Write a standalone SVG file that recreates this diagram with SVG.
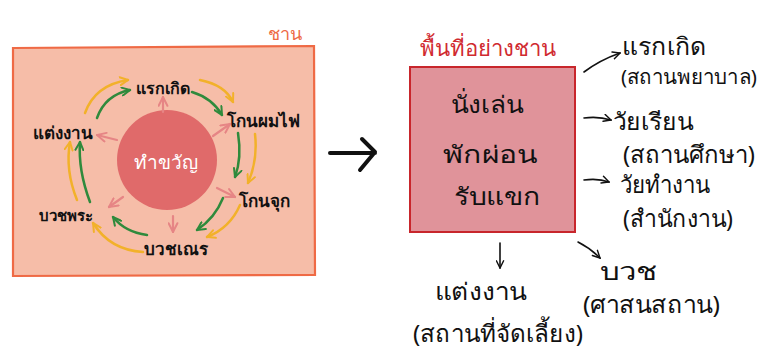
<svg xmlns="http://www.w3.org/2000/svg" width="766" height="350" viewBox="0 0 766 350">
<style>
text{font-family:"Noto Sans","DejaVu Sans",sans-serif;}
.lbl{font-size:17px;fill:#111;font-weight:bold;text-anchor:middle;dominant-baseline:central;}
.hand{font-size:24px;fill:#111;dominant-baseline:central;}
.yel{fill:none;stroke:#f2b12a;stroke-width:2.5;stroke-linecap:round;marker-end:url(#hy);}
.grn{fill:none;stroke:#2f8a3c;stroke-width:2.5;stroke-linecap:round;marker-end:url(#hg);}
.pnk{fill:none;stroke:#e68585;stroke-width:2.2;stroke-linecap:round;marker-end:url(#hp);}
.blk{fill:none;stroke:#111;stroke-width:1.6;stroke-linecap:round;marker-end:url(#hb);}
</style>
<defs>
<marker id="hy" viewBox="0 0 10 10" refX="9" refY="5" markerWidth="10" markerHeight="10" markerUnits="userSpaceOnUse" orient="auto"><path d="M1,1 L9,5 L1,9" fill="none" stroke="#f2b12a" stroke-width="2" stroke-linecap="round"/></marker>
<marker id="hg" viewBox="0 0 10 10" refX="9" refY="5" markerWidth="10" markerHeight="10" markerUnits="userSpaceOnUse" orient="auto"><path d="M1,1 L9,5 L1,9" fill="none" stroke="#2f8a3c" stroke-width="2" stroke-linecap="round"/></marker>
<marker id="hp" viewBox="0 0 10 10" refX="9" refY="5" markerWidth="11" markerHeight="11" markerUnits="userSpaceOnUse" orient="auto"><path d="M1,1 L9,5 L1,9" fill="none" stroke="#e68585" stroke-width="1.8" stroke-linecap="round"/></marker>
<marker id="hb" viewBox="0 0 10 10" refX="9" refY="5" markerWidth="9" markerHeight="9" markerUnits="userSpaceOnUse" orient="auto"><path d="M1,1 L9,5 L1,9" fill="none" stroke="#111" stroke-width="1.6" stroke-linecap="round"/></marker>
</defs>
<rect width="766" height="350" fill="#ffffff"/>

<g id="chan-area">
<polygon points="13,48 314,46 315,275 13,276" fill="#f6bda8" stroke="#ef6a45" stroke-width="2.2"/>
<text x="285" y="33" style="font-size:18px;fill:#ee6a45;text-anchor:middle;dominant-baseline:central;">ชาน</text>
</g>

<g id="center">
<circle cx="167" cy="160" r="50" fill="#e06a6a"/>
<text x="166" y="162" style="font-size:19px;fill:#ffffff;text-anchor:middle;dominant-baseline:central;">ทำขวัญ</text>
</g>

<g id="n-raekkoet"><text class="lbl" x="163" y="88" style="font-size:16px">แรกเกิด</text></g>
<g id="n-konphomfai"><text class="lbl" x="263" y="120">โกนผมไฟ</text></g>
<g id="n-konchuk"><text class="lbl" x="264" y="200">โกนจุก</text></g>
<g id="n-buatnen"><text class="lbl" x="176" y="248">บวชเณร</text></g>
<g id="n-buatphra"><text class="lbl" x="66" y="215" style="font-size:15px">บวชพระ</text></g>
<g id="n-taengngan"><text class="lbl" x="63" y="132">แต่งงาน</text></g>

<g id="connectors">
<path class="yel" d="M85,113 Q95,85 128,80"/>
<path class="yel" d="M200,80 Q225,85 233,102"/>
<path class="yel" d="M255,134 Q258,160 248,183"/>
<path class="yel" d="M240,205 Q230,228 207,237"/>
<path class="yel" d="M143,252 Q110,250 93,223"/>
<path class="yel" d="M77,200 Q65,170 70,142"/>
<path class="grn" d="M97,118 Q105,95 130,90"/>
<path class="grn" d="M192,92 Q212,98 222,115"/>
<path class="grn" d="M238,133 Q242,158 235,177"/>
<path class="grn" d="M223,198 Q215,218 197,230"/>
<path class="grn" d="M147,235 Q125,232 113,217"/>
<path class="grn" d="M90,202 Q78,170 80,142"/>
<path class="pnk" d="M163,112 L163,97"/>
<path class="pnk" d="M213,136 L230,124"/>
<path class="pnk" d="M217,188 L235,197"/>
<path class="pnk" d="M173,216 L173,232"/>
<path class="pnk" d="M123,197 L109,207"/>
<path class="pnk" d="M117,140 L97,135"/>
<path d="M330,153 L375,153 M362,139 L375,152 L360,170" fill="none" stroke="#111" stroke-width="4" stroke-linecap="round" stroke-linejoin="round"/>
<path class="blk" d="M584,72 Q600,60 620,53"/>
<path class="blk" d="M584,118 Q598,116 611,120"/>
<path class="blk" d="M584,180 Q598,178 609,182"/>
<path class="blk" d="M500,243 L500,268"/>
<path class="blk" d="M578,242 Q590,248 600,258"/>
</g>

<g id="space">
<text x="488" y="47" textLength="137" lengthAdjust="spacingAndGlyphs" style="font-size:22px;fill:#d02a30;text-anchor:middle;dominant-baseline:central;">พื้นที่อย่างชาน</text>
<rect x="410" y="67" width="165" height="165" fill="#e0939a" stroke="#c8262c" stroke-width="2"/>
<text class="hand" x="487" y="103" text-anchor="middle" textLength="73" lengthAdjust="spacingAndGlyphs">นั่งเล่น</text>
<text class="hand" x="490" y="153" text-anchor="middle" textLength="94" lengthAdjust="spacingAndGlyphs">พักผ่อน</text>
<text class="hand" x="497" y="195" text-anchor="middle" textLength="87" lengthAdjust="spacingAndGlyphs">รับแขก</text>
</g>

<g id="r-birth">
<text class="hand" x="622" y="45" textLength="85" lengthAdjust="spacingAndGlyphs">แรกเกิด</text>
<text class="hand" x="621" y="76" style="font-size:20px" textLength="136" lengthAdjust="spacingAndGlyphs">(สถานพยาบาล)</text>
</g>
<g id="r-study">
<text class="hand" x="613" y="120" textLength="80" lengthAdjust="spacingAndGlyphs">วัยเรียน</text>
<text class="hand" x="623" y="153" textLength="132" lengthAdjust="spacingAndGlyphs">(สถานศึกษา)</text>
</g>
<g id="r-work">
<text class="hand" x="620" y="183" textLength="90" lengthAdjust="spacingAndGlyphs">วัยทำงาน</text>
<text class="hand" x="623" y="217" textLength="110" lengthAdjust="spacingAndGlyphs">(สำนักงาน)</text>
</g>
<g id="b-wedding">
<text class="hand" x="435" y="290" textLength="92" lengthAdjust="spacingAndGlyphs">แต่งงาน</text>
<text class="hand" x="413" y="332" textLength="170" lengthAdjust="spacingAndGlyphs">(สถานที่จัดเลี้ยง)</text>
</g>
<g id="b-ordain">
<text class="hand" x="600" y="270" textLength="57" lengthAdjust="spacingAndGlyphs">บวช</text>
<text class="hand" x="583" y="303" textLength="137" lengthAdjust="spacingAndGlyphs">(ศาสนสถาน)</text>
</g>
</svg>
